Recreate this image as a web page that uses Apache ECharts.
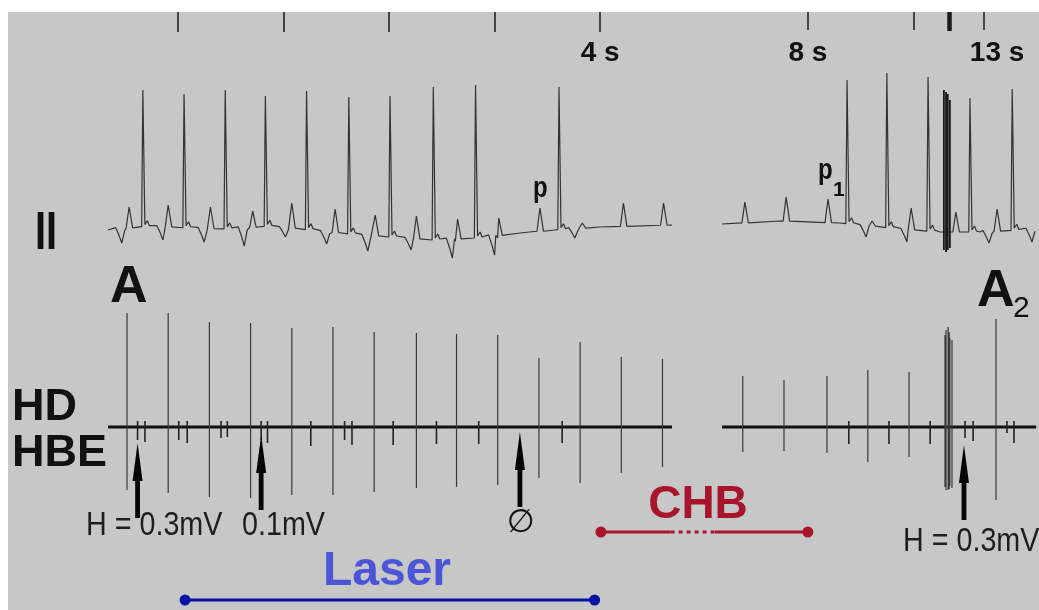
<!DOCTYPE html>
<html>
<head>
<meta charset="utf-8">
<script src="https://cdn.jsdelivr.net/npm/echarts@6/dist/echarts.min.js"></script>
<style>
  html, body { margin: 0; padding: 0; background: #fff; }
  #main { width: 1039px; height: 610px; }
</style>
</head>
<body>
<div id="main"></div>
<script>
// time spans of the two strips (s)
var leftSpan = [-0.66, 4.68];
var rightSpan = [5.56, 14.48];

// lead II, first strip
var leftQrsT = [-0.33, 0.06, 0.45, 0.83, 1.22, 1.62, 2.01, 2.42, 2.82, 3.61];
var leftQrsV = [1.40, 1.36, 1.40, 1.34, 1.39, 1.33, 1.34, 1.43, 1.45, 1.43];
var leftPT = [-0.46, -0.09, 0.31, 0.71, 1.08, 1.49, 1.87, 2.26, 2.65, 3.04, 3.43, 3.83, 4.22, 4.60];
var leftPV = [0.23, 0.25, 0.23, 0.19, 0.27, 0.21, 0.15, 0.14, 0.11, 0.12, 0.22, 0.07, 0.27, 0.27];
var leftDipT = [-0.53, -0.14, 0.25, 0.63, 1.02, 1.41, 1.80, 2.21, 2.60, 3.00, 3.76];
var leftDipV = [-0.13, -0.10, -0.12, -0.16, -0.07, -0.14, -0.21, -0.20, -0.28, -0.25, -0.08];
var leftBaseT = [-0.66, -0.27, 0.11, 0.49, 0.87, 1.25, 1.63, 2.01, 2.42, 2.82, 3.24, 3.57, 4.00, 4.68];
var leftBaseV = [0.00, 0.04, 0.02, 0.01, 0.04, 0.00, -0.04, -0.07, -0.10, -0.08, -0.03, 0.00, 0.03, 0.05];

// lead II, second strip
var rightQrsT = [9.11, 10.24, 11.41, 12.60, 13.80];
var rightQrsV = [1.50, 1.57, 1.53, 1.32, 1.41];
var rightPT = [6.21, 7.38, 8.57, 9.82, 10.93, 12.20, 13.37];
var rightPV = [0.28, 0.33, 0.31, 0.09, 0.22, 0.18, 0.21];
var rightDipT = [9.65, 10.81, 13.14, 14.36];
var rightDipV = [-0.07, -0.12, -0.13, -0.12];
var rightBaseT = [5.56, 7.20, 8.91, 9.76, 10.61, 11.75, 12.89, 14.48];
var rightBaseV = [0.06, 0.09, 0.07, 0.04, 0.01, -0.02, -0.02, 0.01];
var rightArtT = [11.86, 11.92, 11.97, 12.03];
var rightArtTop = [1.40, 1.38, 1.36, 1.30];
var rightArtBot = [-0.20, -0.22, -0.20, -0.18];

// His bundle electrogram, first strip
var leftAT = [-0.48, -0.09, 0.30, 0.69, 1.08, 1.47, 1.86, 2.26, 2.64, 3.03, 3.42, 3.81, 4.20, 4.59];
var leftATop = [1.14, 1.14, 1.05, 1.04, 0.99, 1.00, 0.95, 0.94, 0.93, 0.92, 0.69, 0.85, 0.70, 0.68];
var leftABot = [-0.63, -0.66, -0.70, -0.71, -0.68, -0.68, -0.65, -0.61, -0.60, -0.58, -0.51, -0.56, -0.46, -0.40];
var leftHT = [-0.38, -0.31, 0.01, 0.09, 0.41, 0.47, 0.79, 0.85, 1.26, 1.58, 1.65, 2.04, 2.45, 2.85, 3.64];
var leftHV = [-0.13, -0.15, -0.13, -0.16, -0.11, -0.10, -0.13, -0.16, -0.19, -0.13, -0.18, -0.18, -0.17, -0.17, -0.16];

// His bundle electrogram, second strip
var rightAT = [6.15, 7.32, 8.54, 9.70, 10.87, 11.89, 11.92, 11.98, 12.01, 12.03, 12.09, 13.34];
var rightATop = [0.51, 0.47, 0.51, 0.57, 0.55, 0.92, 0.97, 1.00, 0.95, 0.89, 0.87, 1.08];
var rightABot = [-0.25, -0.24, -0.26, -0.35, -0.30, -0.60, -0.63, -0.63, -0.62, -0.59, -0.61, -0.73];
var rightHT = [9.16, 10.30, 11.47, 12.46, 12.69, 13.65, 13.85];
var rightHV = [-0.17, -0.17, -0.17, -0.11, -0.14, -0.06, -0.16];

// arrows on H deflections
var leftArrowT = [-0.38, 0.79, 3.24];
var leftArrowV = [-0.16, -0.08, -0.05];
var rightArrowT = [12.43];
var rightArrowV = [-0.18];

// time marks
var leftTicks = [0, 1, 2, 3, 4];
var leftTickLabels = [4];
var rightTicks = [8, 11, 13];
var rightTickLabels = [8, 13];
var rightMark = [12];

// laser / CHB bars (s, first strip time base)
var laserSpan = [0.07, 3.95];
var chbSpan = [4.01, 5.97];
var chbGap = [4.67, 5.09];

function interp(xs, ys, t) {
    if (t <= xs[0]) return ys[0];
    for (var i = 0; i < xs.length - 1; i++) {
        if (t <= xs[i + 1]) return ys[i] + (ys[i + 1] - ys[i]) * (t - xs[i]) / (xs[i + 1] - xs[i]);
    }
    return ys[ys.length - 1];
}

function buildTrace(baseT, baseV, qrsT, qrsV, pT, pV, dipT, dipV, span, pxPerSec) {
    var k = 1 / pxPerSec;
    var pts = [];
    var busy = [];
    qrsT.forEach(function (t, i) {
        var b = interp(baseT, baseV, t);
        pts.push([t - 1.2 * k, b], [t, qrsV[i]], [t + 2 * k, b + 0.02], [t + 4.5 * k, b + 0.06], [t + 6.5 * k, b + 0.01]);
        busy.push([t - 3 * k, t + 9 * k]);
    });
    pT.forEach(function (t, i) {
        var b = interp(baseT, baseV, t);
        pts.push([t - 3 * k, b], [t, pV[i]], [t + 3.5 * k, b]);
        busy.push([t - 5 * k, t + 5 * k]);
    });
    dipT.forEach(function (t, i) {
        var b = interp(baseT, baseV, t);
        pts.push([t - 6 * k, b + 0.01], [t - 2.5 * k, (b + dipV[i]) / 2], [t, dipV[i]], [t + 3 * k, b - 0.02]);
        busy.push([t - 8 * k, t + 5 * k]);
    });
    baseT.forEach(function (t, i) {
        var free = busy.every(function (w) { return t < w[0] || t > w[1]; });
        if (free) pts.push([t, baseV[i]]);
    });
    pts.sort(function (a, b) { return a[0] - b[0]; });
    return pts;
}

function segs(ts, tops, bots) {
    var d = [];
    ts.forEach(function (t, i) {
        d.push([t, tops[i]], [t, bots[i]], [t, '-']);
    });
    return d;
}

function arrows(ts, vs) {
    return ts.map(function (t, i) { return { coord: [t, vs[i]] }; });
}

var chartDom = document.getElementById('main');
var myChart = echarts.init(chartDom);
var option;

var FONT = 'Liberation Sans, Arial, sans-serif';
var arrowPath = 'path://M5 0 L10 38 L7.4 38 L7.4 75 L2.6 75 L2.6 38 L0 38 Z';

var leftEcg = buildTrace(leftBaseT, leftBaseV, leftQrsT, leftQrsV, leftPT, leftPV, leftDipT, leftDipV, leftSpan, 105.6);
var rightEcg = buildTrace(rightBaseT, rightBaseV, rightQrsT, rightQrsV, rightPT, rightPV, rightDipT, rightDipV, rightSpan, 35.2);

function hLine(color, width, type) {
    return { color: color, width: width, type: type || 'solid' };
}

function topAxis(grid, min, max, ticks, labels, tickLen, tickWidth, showLabel) {
    return {
        gridIndex: grid, type: 'value', min: min, max: max,
        position: 'top', offset: 58,
        axisLine: { show: false, onZero: false },
        splitLine: { show: false },
        axisTick: { show: true, inside: true, length: tickLen, customValues: ticks,
            lineStyle: { color: '#1a1a1a', width: tickWidth } },
        axisLabel: { show: showLabel, inside: true, margin: 27, customValues: labels,
            color: '#111', fontFamily: FONT, fontWeight: 'bold', fontSize: 28,
            formatter: function (v) { return v === 13 ? '{r|13 s}' : v + ' s'; },
            rich: { r: { color: '#111', fontFamily: FONT, fontWeight: 'bold', fontSize: 28, padding: [0, 0, 0, 26] } } }
    };
}

function hiddenX(grid, min, max) {
    return { gridIndex: grid, type: 'value', min: min, max: max, show: false };
}

function hiddenY(grid, min, max) {
    return { gridIndex: grid, type: 'value', min: min, max: max, show: false };
}

option = {
    backgroundColor: '#c7c7c7',
    animation: false,
    grid: [
        { left: 108, top: 70, width: 564, height: 200, outerBoundsMode: 'none' },
        { left: 108, top: 300, width: 564, height: 200, outerBoundsMode: 'none' },
        { left: 722, top: 70, width: 317, height: 200, outerBoundsMode: 'none' },
        { left: 722, top: 300, width: 317, height: 200, outerBoundsMode: 'none' },
        { left: 108, top: 520, width: 931, height: 90, outerBoundsMode: 'none' }
    ],
    xAxis: [
        topAxis(0, -0.66, 4.68, leftTicks, leftTickLabels, 20, 1.5, true),
        hiddenX(1, -0.66, 4.68),
        topAxis(2, 5.56, 14.56, rightTicks, rightTickLabels, 18, 1.5, true),
        hiddenX(3, 5.56, 14.56),
        hiddenX(4, -0.66, 8.16),
        topAxis(2, 5.56, 14.56, rightMark, [], 19, 4.5, false)
    ],
    yAxis: [
        hiddenY(0, -0.4, 1.6),
        hiddenY(1, -0.73, 1.27),
        hiddenY(2, -0.4, 1.6),
        hiddenY(3, -0.73, 1.27),
        hiddenY(4, 0, 90)
    ],
    series: [
        { name: 'II left', type: 'line', xAxisIndex: 0, yAxisIndex: 0, data: leftEcg,
          symbol: 'none', clip: false, lineStyle: hLine('#333', 1.2) },
        { name: 'II right', type: 'line', xAxisIndex: 2, yAxisIndex: 2, data: rightEcg,
          symbol: 'none', clip: false, lineStyle: hLine('#333', 1.2) },
        { name: 'II artefact', type: 'line', xAxisIndex: 2, yAxisIndex: 2,
          data: segs(rightArtT, rightArtTop, rightArtBot),
          symbol: 'none', clip: false, lineStyle: hLine('#1a1a1a', 1.8) },

        { name: 'HBE left', type: 'line', xAxisIndex: 1, yAxisIndex: 1,
          data: [[leftSpan[0], 0], [leftSpan[1], 0]],
          symbol: 'none', clip: false, lineStyle: hLine('#111', 3),
          markPoint: { symbol: arrowPath, symbolSize: [10, 75], symbolOffset: [0, '50%'],
              itemStyle: { color: '#050505' }, label: { show: false },
              data: arrows(leftArrowT, leftArrowV) } },
        { name: 'A left', type: 'line', xAxisIndex: 1, yAxisIndex: 1,
          data: segs(leftAT, leftATop, leftABot),
          symbol: 'none', clip: false, lineStyle: hLine('#3a3a3a', 1.2) },
        { name: 'H left', type: 'line', xAxisIndex: 1, yAxisIndex: 1,
          data: segs(leftHT, leftHT.map(function () { return 0.06; }), leftHV),
          symbol: 'none', clip: false, lineStyle: hLine('#222', 1.6) },

        { name: 'HBE right', type: 'line', xAxisIndex: 3, yAxisIndex: 3,
          data: [[rightSpan[0], 0], [rightSpan[1], 0]],
          symbol: 'none', clip: false, lineStyle: hLine('#111', 3),
          markPoint: { symbol: arrowPath, symbolSize: [10, 75], symbolOffset: [0, '50%'],
              itemStyle: { color: '#050505' }, label: { show: false },
              data: arrows(rightArrowT, rightArrowV) } },
        { name: 'A right', type: 'line', xAxisIndex: 3, yAxisIndex: 3,
          data: segs(rightAT, rightATop, rightABot),
          symbol: 'none', clip: false, lineStyle: hLine('#3a3a3a', 1.2) },
        { name: 'H right', type: 'line', xAxisIndex: 3, yAxisIndex: 3,
          data: segs(rightHT, rightHT.map(function () { return 0.06; }), rightHV),
          symbol: 'none', clip: false, lineStyle: hLine('#222', 1.6) },

        { name: 'Laser', type: 'line', xAxisIndex: 4, yAxisIndex: 4,
          data: [[laserSpan[0], 10], [laserSpan[1], 10]],
          symbol: 'circle', symbolSize: 11, clip: false,
          itemStyle: { color: '#0b12a3' }, lineStyle: hLine('#0b12a3', 3) },
        { name: 'CHB', type: 'line', xAxisIndex: 4, yAxisIndex: 4,
          data: [[chbSpan[0], 78], { value: [chbGap[0], 78], symbol: 'none' }, [chbGap[0], '-'],
                 { value: [chbGap[1], 78], symbol: 'none' }, [chbSpan[1], 78]],
          symbol: 'circle', symbolSize: 11, clip: false,
          itemStyle: { color: '#a8142c' }, lineStyle: hLine('#a8142c', 3) },
        { name: 'CHB gap', type: 'line', xAxisIndex: 4, yAxisIndex: 4,
          data: [[chbGap[0], 78], [chbGap[1], 78]],
          symbol: 'none', clip: false, lineStyle: hLine('#a8142c', 3, [4, 4]) }
    ],
    graphic: [
        { type: 'rect', shape: { x: 0, y: 0, width: 1039, height: 12 }, style: { fill: '#fff' } },
        { type: 'rect', shape: { x: 0, y: 0, width: 8, height: 610 }, style: { fill: '#fff' } },
        { type: 'text', x: 35, y: 234, scaleX: 0.75, style: { text: 'II', font: 'bold 53px ' + FONT, fill: '#111', verticalAlign: 'middle' } },
        { type: 'text', x: 110, y: 288, style: { text: 'A', font: 'bold 52px ' + FONT, fill: '#111', verticalAlign: 'middle' } },
        { type: 'text', x: 977, y: 292, style: { text: 'A', font: 'bold 52px ' + FONT, fill: '#111', verticalAlign: 'middle' } },
        { type: 'text', x: 1013, y: 309, style: { text: '2', font: '30px ' + FONT, fill: '#111', verticalAlign: 'middle' } },
        { type: 'text', x: 12, y: 408, style: { text: 'HD', font: 'bold 45px ' + FONT, fill: '#111', verticalAlign: 'middle' } },
        { type: 'text', x: 12, y: 454, style: { text: 'HBE', font: 'bold 45px ' + FONT, fill: '#111', verticalAlign: 'middle' } },
        { type: 'text', x: 86, y: 526, scaleX: 0.87, style: { text: 'H = 0.3mV', font: '33px ' + FONT, fill: '#1e1e1e', verticalAlign: 'middle' } },
        { type: 'text', x: 242, y: 526, scaleX: 0.87, style: { text: '0.1mV', font: '33px ' + FONT, fill: '#1e1e1e', verticalAlign: 'middle' } },
        { type: 'text', x: 903, y: 542, scaleX: 0.87, style: { text: 'H = 0.3mV', font: '33px ' + FONT, fill: '#1e1e1e', verticalAlign: 'middle' } },
        { type: 'text', x: 521, y: 524, style: { text: '\u2205', font: '32px DejaVu Sans', fill: '#111', align: 'center', verticalAlign: 'middle' } },
        { type: 'text', x: 533, y: 189, scaleX: 0.8, style: { text: 'p', font: 'bold 30px ' + FONT, fill: '#111', verticalAlign: 'middle' } },
        { type: 'text', x: 818, y: 171, scaleX: 0.8, style: { text: 'p', font: 'bold 30px ' + FONT, fill: '#111', verticalAlign: 'middle' } },
        { type: 'text', x: 833, y: 190, style: { text: '1', font: 'bold 21px ' + FONT, fill: '#111', verticalAlign: 'middle' } },
        { type: 'text', x: 387, y: 572, style: { text: 'Laser', font: 'bold 48px ' + FONT, fill: '#4b55d7', align: 'center', verticalAlign: 'middle' } },
        { type: 'text', x: 698, y: 505, style: { text: 'CHB', font: 'bold 46px ' + FONT, fill: '#a8142c', align: 'center', verticalAlign: 'middle' } }
    ]
};

option && myChart.setOption(option);
</script>
</body>
</html>
